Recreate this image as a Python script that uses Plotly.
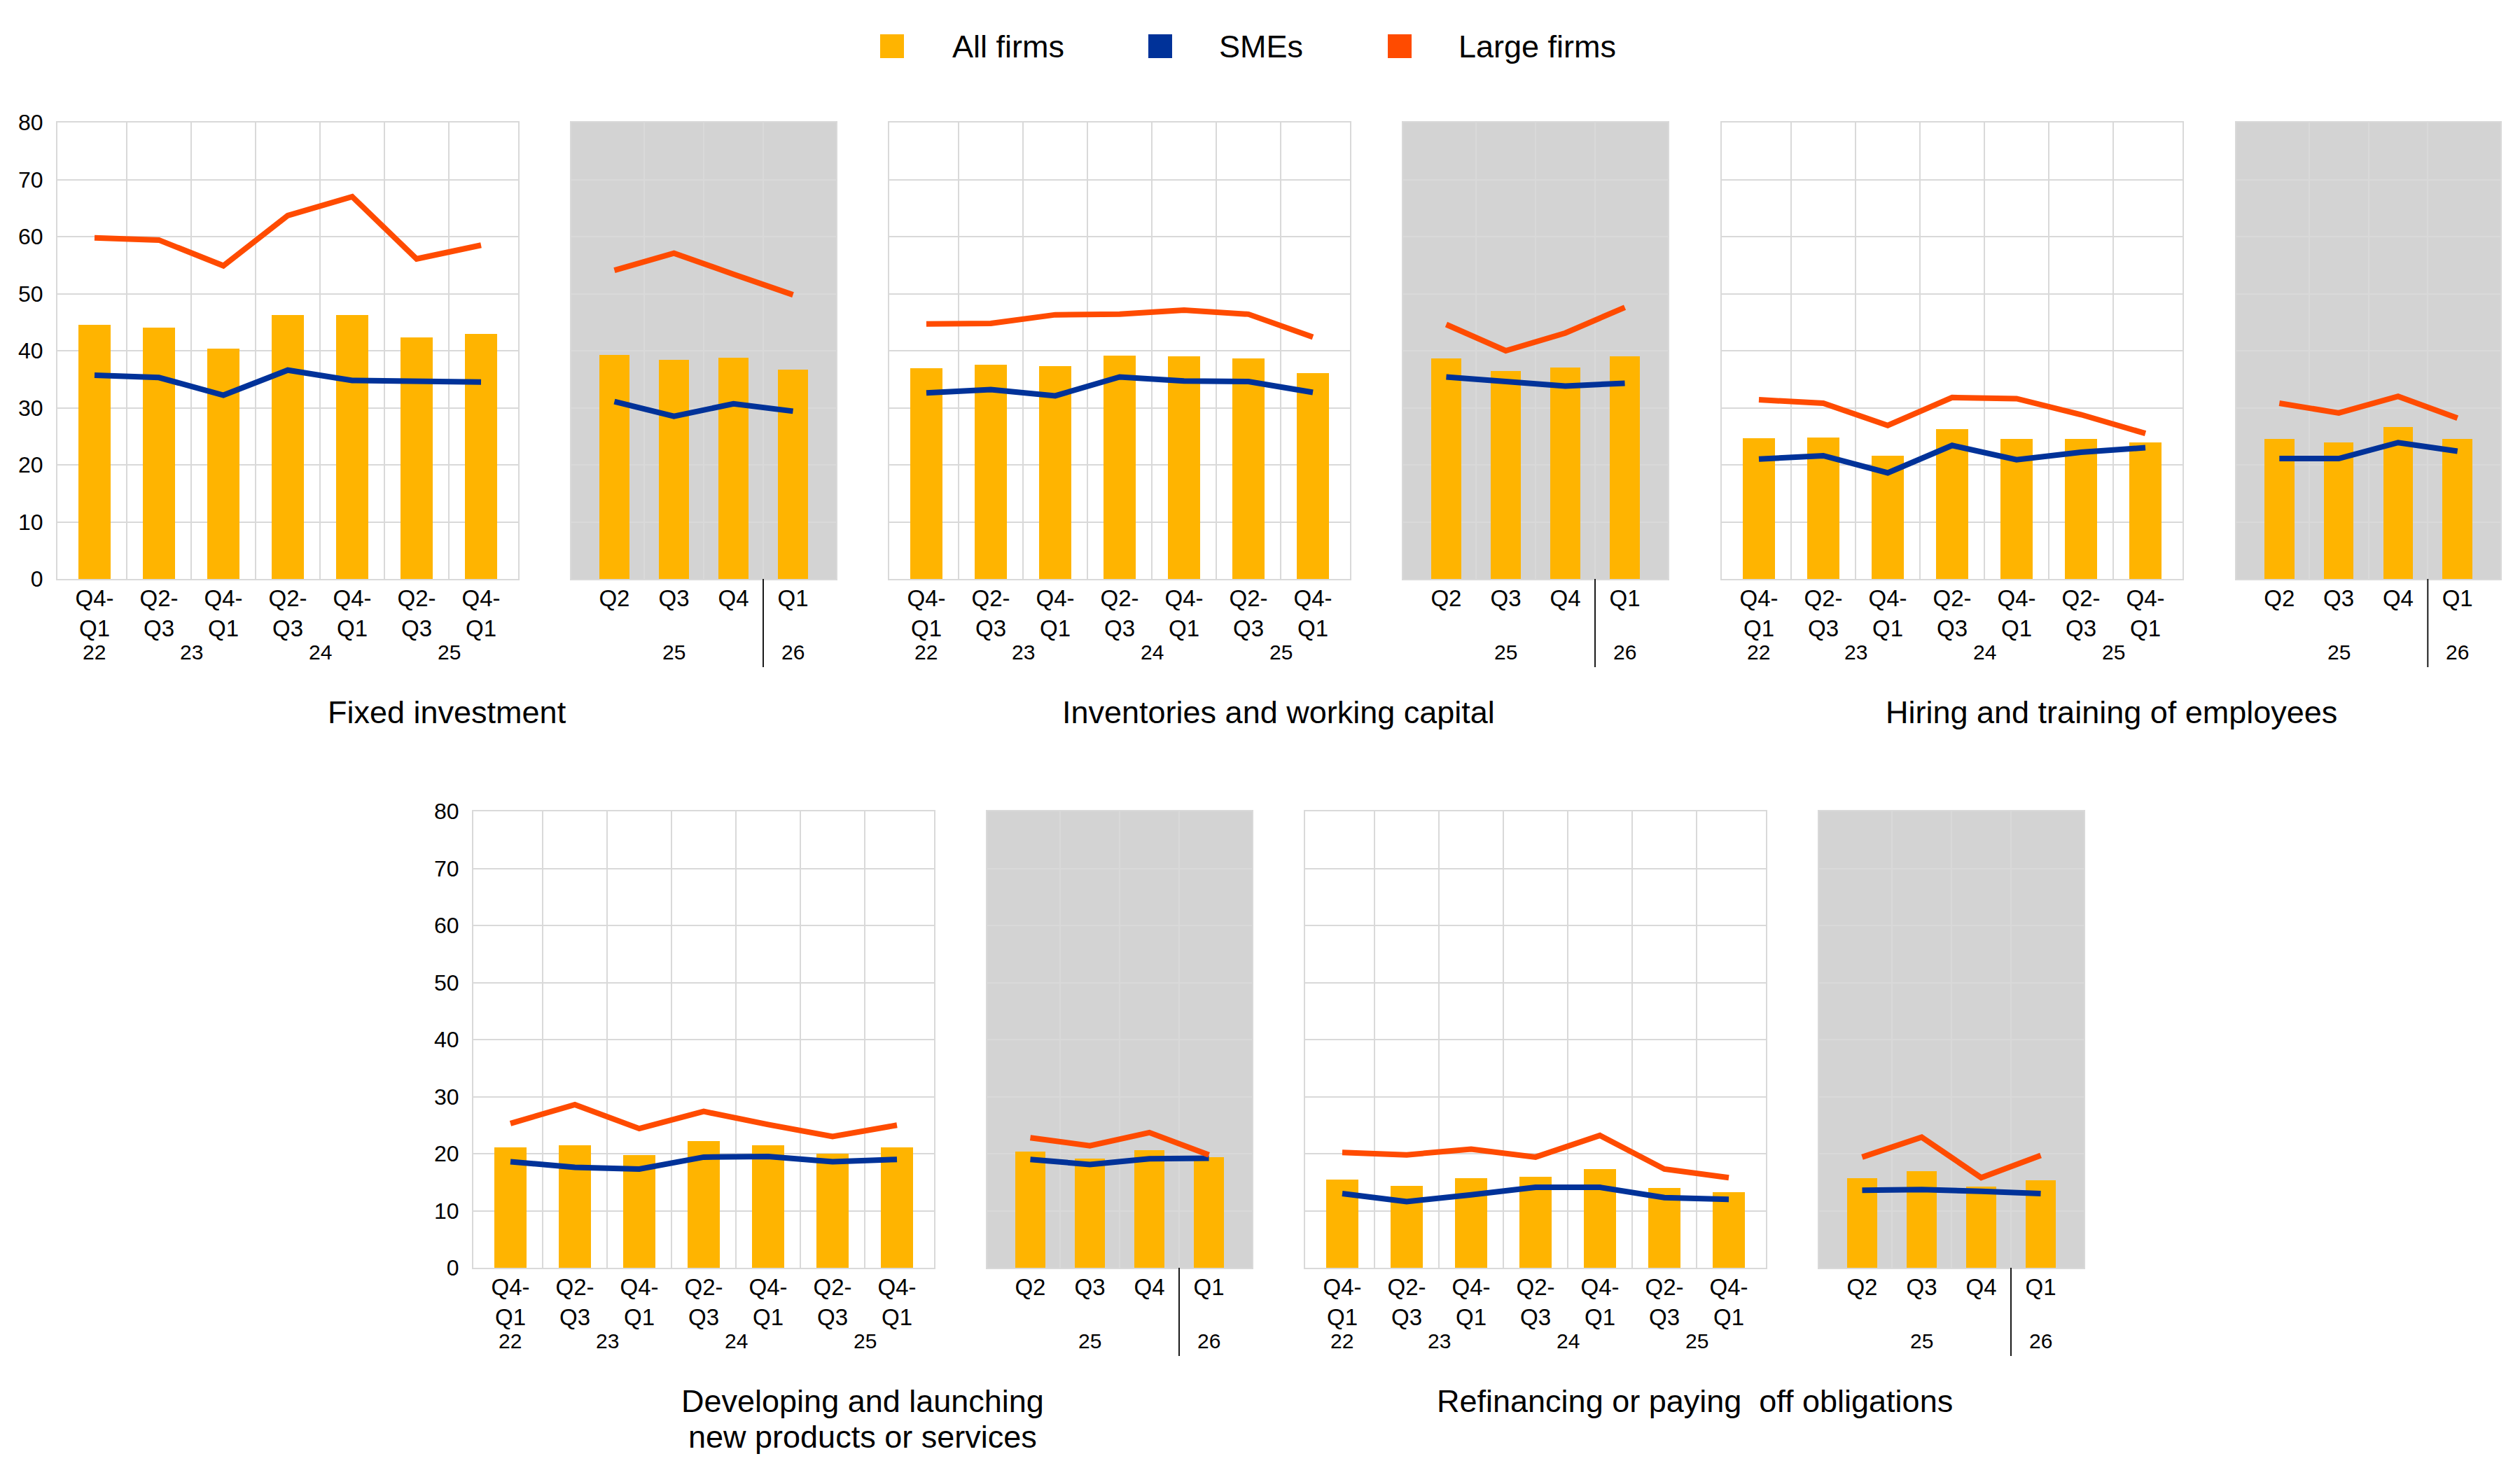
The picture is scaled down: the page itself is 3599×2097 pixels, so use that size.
import plotly.graph_objects as go

W, H = 3599, 2097
FONT = "Liberation Sans, Arial, Helvetica, sans-serif"

# ---------------- data ----------------
series_names = ["All firms", "SMEs", "Large firms"]
series_colors = ["#FFB400", "#003299", "#FF4B00"]

hist_labels = ["Q4-<br>Q1", "Q2-<br>Q3", "Q4-<br>Q1", "Q2-<br>Q3", "Q4-<br>Q1", "Q2-<br>Q3", "Q4-<br>Q1"]
hist_years = ["22", "23", "24", "25"]
hist_year_pos = [0, 1.5, 3.5, 5.5]
exp_labels = ["Q2", "Q3", "Q4", "Q1"]
exp_years = ["25", "26"]
exp_year_pos = [1, 3]

panel_titles = [
    "Fixed investment",
    "Inventories and working capital",
    "Hiring and training of employees",
    "Developing and launching<br>new products or services",
    "Refinancing or paying\u00a0 off obligations",
]

# Fixed investment
fixed_all_hist = [44.5, 44.0, 40.4, 46.2, 46.3, 42.3, 43.0]
fixed_sme_hist = [35.7, 35.3, 32.2, 36.6, 34.8, 34.7, 34.5]
fixed_large_hist = [59.8, 59.4, 54.9, 63.7, 67.0, 56.1, 58.5]
fixed_all_exp = [39.3, 38.4, 38.8, 36.7]
fixed_sme_exp = [31.1, 28.5, 30.7, 29.4]
fixed_large_exp = [54.1, 57.1, 53.4, 49.8]

# Inventories and working capital
inv_all_hist = [36.9, 37.5, 37.3, 39.2, 39.0, 38.7, 36.1]
inv_sme_hist = [32.6, 33.2, 32.1, 35.4, 34.7, 34.6, 32.7]
inv_large_hist = [44.7, 44.8, 46.3, 46.4, 47.1, 46.4, 42.4]
inv_all_exp = [38.6, 36.5, 37.1, 39.0]
inv_sme_exp = [35.4, 34.7, 33.8, 34.3]
inv_large_exp = [44.6, 40.0, 43.1, 47.6]

# Hiring and training of employees
hire_all_hist = [24.7, 24.8, 21.6, 26.3, 24.6, 24.5, 23.9]
hire_sme_hist = [21.0, 21.6, 18.6, 23.4, 20.9, 22.2, 23.0]
hire_large_hist = [31.4, 30.8, 26.9, 31.8, 31.6, 28.8, 25.5]
hire_all_exp = [24.6, 23.9, 26.6, 24.5]
hire_sme_exp = [21.1, 21.1, 23.9, 22.4]
hire_large_exp = [30.8, 29.1, 32.0, 28.2]

# Developing and launching new products or services
dev_all_hist = [21.1, 21.5, 19.8, 22.2, 21.5, 20.0, 21.1]
dev_sme_hist = [18.6, 17.6, 17.3, 19.4, 19.5, 18.6, 19.0]
dev_large_hist = [25.3, 28.6, 24.4, 27.4, 25.1, 23.0, 25.0]
dev_all_exp = [20.4, 19.1, 20.6, 19.4]
dev_sme_exp = [19.0, 18.1, 19.1, 19.2]
dev_large_exp = [22.8, 21.4, 23.7, 19.8]

# Refinancing or paying off obligations
ref_all_hist = [15.5, 14.4, 15.7, 15.9, 17.3, 14.0, 13.3]
ref_sme_hist = [13.0, 11.6, 12.8, 14.1, 14.1, 12.3, 12.0]
ref_large_hist = [20.2, 19.8, 20.8, 19.4, 23.2, 17.3, 15.8]
ref_all_exp = [15.7, 16.9, 14.2, 15.3]
ref_sme_exp = [13.6, 13.7, 13.4, 13.0]
ref_large_exp = [19.4, 22.9, 15.8, 19.7]

y_ticks = [0, 10, 20, 30, 40, 50, 60, 70, 80]

panels_data = [
    ((fixed_all_hist, fixed_sme_hist, fixed_large_hist), (fixed_all_exp, fixed_sme_exp, fixed_large_exp)),
    ((inv_all_hist, inv_sme_hist, inv_large_hist), (inv_all_exp, inv_sme_exp, inv_large_exp)),
    ((hire_all_hist, hire_sme_hist, hire_large_hist), (hire_all_exp, hire_sme_exp, hire_large_exp)),
    ((dev_all_hist, dev_sme_hist, dev_large_hist), (dev_all_exp, dev_sme_exp, dev_large_exp)),
    ((ref_all_hist, ref_sme_hist, ref_large_hist), (ref_all_exp, ref_sme_exp, ref_large_exp)),
]

# ---------------- layout geometry (pixels) ----------------
# (white x0, white x1, grey x0, grey x1, plot top, plot bottom)
geom = [
    (82, 740, 816, 1194, 175, 827),
    (1270, 1928, 2004, 2382, 175, 827),
    (2459, 3117, 3194, 3571, 175, 827),
    (676, 1334, 1410, 1788, 1159, 1811),
    (1864, 2522, 2598, 2976, 1159, 1811),
]
show_y_labels = [True, False, False, True, False]


def px(x):
    return x / W


def py(y):
    return 1 - y / H


GRID = "#d9d9d9"
GREY_BG = "#d3d3d3"
LINE_W = 8

fig = go.Figure()
layout = dict(
    width=W, height=H,
    margin=dict(l=0, r=0, t=0, b=0, pad=0, autoexpand=False),
    paper_bgcolor="white", plot_bgcolor="white",
    font=dict(family=FONT, color="black"),
    showlegend=False,
    bargap=0,
)
shapes = []
annotations = []

k = 0
for p, ((h_all, h_sme, h_large), (e_all, e_sme, e_large)) in enumerate(panels_data):
    wx0, wx1, gx0, gx1, top, bot = geom[p]
    for part in range(2):
        k += 1
        xa = "x" if k == 1 else f"x{k}"
        ya = "y" if k == 1 else f"y{k}"
        if part == 0:
            labels, vals, dom, rng = hist_labels, (h_all, h_sme, h_large), (px(wx0), px(wx1)), [-0.576, len(hist_labels) - 1 + 0.576]
        else:
            labels, vals, dom, rng = exp_labels, (e_all, e_sme, e_large), (px(gx0), px(gx1)), [-0.723, len(exp_labels) - 1 + 0.723]
        pos = list(range(len(labels)))
        all_v, sme_v, large_v = vals
        fig.add_trace(go.Bar(x=pos, y=all_v, width=0.5, name=series_names[0],
                             marker=dict(color=series_colors[0], line=dict(width=0)),
                             xaxis=xa, yaxis=ya, showlegend=False))
        fig.add_trace(go.Scatter(x=pos, y=sme_v, mode="lines", name=series_names[1],
                                 line=dict(color=series_colors[1], width=LINE_W),
                                 xaxis=xa, yaxis=ya, showlegend=False))
        fig.add_trace(go.Scatter(x=pos, y=large_v, mode="lines", name=series_names[2],
                                 line=dict(color=series_colors[2], width=LINE_W),
                                 xaxis=xa, yaxis=ya, showlegend=False))
        xkey = "xaxis" if k == 1 else f"xaxis{k}"
        ykey = "yaxis" if k == 1 else f"yaxis{k}"
        layout[xkey] = dict(
            domain=list(dom), anchor=ya, range=rng, type="linear",
            tickmode="array", tickvals=pos, ticktext=labels,
            showgrid=False, zeroline=False, ticks="", automargin=False,
            tickfont=dict(size=33, family=FONT, color="black"),
            ticklabelstandoff=-3,
            showline=True, mirror=True, linecolor=GRID, linewidth=2,
            minor=dict(tickmode="array", tickvals=[i + 0.5 for i in pos[:-1]],
                       showgrid=True, gridcolor=GRID, gridwidth=1.5, ticks=""),
            fixedrange=True,
        )
        layout[ykey] = dict(
            domain=[py(bot), py(top)], anchor=xa, range=[0, 80],
            tickmode="array", tickvals=y_ticks,
            showticklabels=(show_y_labels[p] and part == 0),
            showgrid=True, gridcolor=GRID, gridwidth=1.5, zeroline=False, ticks="",
            automargin=False,
            tickfont=dict(size=32, family=FONT, color="black"),
            ticklabelstandoff=12,
            showline=True, mirror=True, linecolor=GRID, linewidth=2,
            fixedrange=True,
        )
        year_y = py(bot + 104)
        years, year_pos = (hist_years, hist_year_pos) if part == 0 else (exp_years, exp_year_pos)
        for yl, yp in zip(years, year_pos):
            annotations.append(dict(text=yl, x=yp, xref=xa, y=year_y, yref="paper",
                                    showarrow=False, xanchor="center", yanchor="middle",
                                    font=dict(size=30, family=FONT, color="black")))
        if part == 1:
            shapes.append(dict(type="rect", xref=f"{xa} domain", yref=f"{ya} domain",
                               x0=0, x1=1, y0=0, y1=1, fillcolor=GREY_BG,
                               line=dict(width=0), layer="below"))
            # divider between the two years
            shapes.append(dict(type="line", xref=xa, yref="paper",
                               x0=len(labels) - 1.5, x1=len(labels) - 1.5,
                               y0=py(bot), y1=py(bot + 126),
                               line=dict(color="#1a1a1a", width=2)))
    # panel title (one annotation per line for tight line spacing)
    title_center = (wx0 + gx1) / 2
    for li, line in enumerate(panel_titles[p].split("<br>")):
        annotations.append(dict(text=line, x=px(title_center), xref="paper",
                                y=py(bot + 190 + 51 * li), yref="paper", showarrow=False,
                                xanchor="center", yanchor="middle",
                                font=dict(size=45, family=FONT, color="black")))

# ---------------- legend (manual, square swatches) ----------------
legend_sq_x = [1257, 1640, 1982]
legend_txt_x = [1358, 1739, 2081]
legend_y = 66
sq = 34
for name, col, sx, tx in zip(series_names, series_colors, legend_sq_x, legend_txt_x):
    shapes.append(dict(type="rect", xref="paper", yref="paper",
                       x0=px(sx), x1=px(sx + sq), y0=py(legend_y + sq / 2), y1=py(legend_y - sq / 2),
                       fillcolor=col, line=dict(width=0)))
    annotations.append(dict(text=name, x=px(tx), xref="paper", y=py(legend_y), yref="paper",
                            showarrow=False, xanchor="left", yanchor="middle",
                            font=dict(size=45, family=FONT, color="black")))

layout["shapes"] = shapes
layout["annotations"] = annotations
fig.update_layout(**layout)
fig.write_html("out.html", config={"displayModeBar": False},
               post_script="document.body.style.margin='0px';")
